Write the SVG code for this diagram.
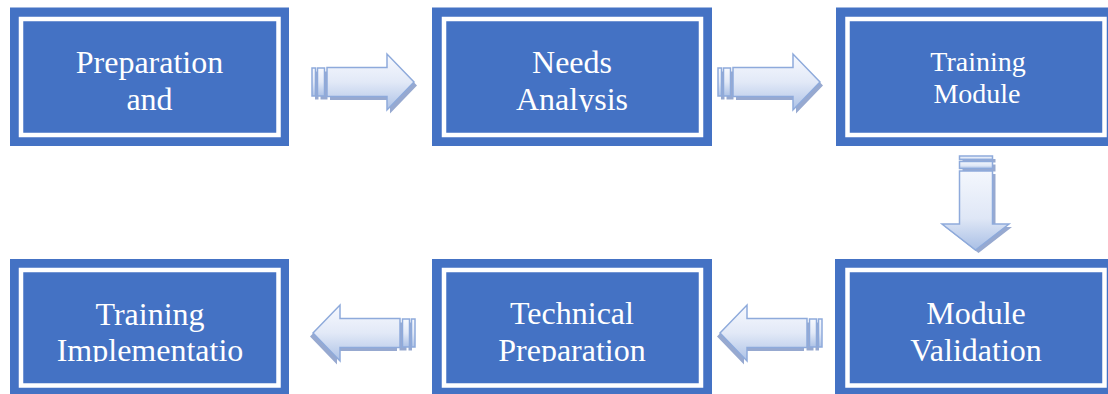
<svg xmlns="http://www.w3.org/2000/svg" width="1108" height="394" viewBox="0 0 1108 394">
  <style>
    .box { fill: #4472c4; }
    .frame { fill: none; stroke: #ffffff; stroke-width: 4.5; }
    .lbl { font-family: "Liberation Serif", "Times New Roman", serif; fill: #ffffff; text-anchor: middle; }
    .big { font-size: 32px; }
    .mid { font-size: 28px; }
    .arrow { fill: url(#arrowFill); stroke: #8eaadb; stroke-width: 1.5; stroke-linejoin: miter; }
    .shadow { fill: #97a9d0; }
  </style>
  <defs>
    <linearGradient id="arrowFill" x1="0" y1="0" x2="0" y2="1">
      <stop offset="0" stop-color="#f7f9fe"/>
      <stop offset="0.5" stop-color="#e2e9f7"/>
      <stop offset="1" stop-color="#adc2e6"/>
    </linearGradient>
    <linearGradient id="arrowFillDown" x1="0" y1="0" x2="0" y2="1">
      <stop offset="0" stop-color="#f4f7fd"/>
      <stop offset="0.6" stop-color="#dfe7f6"/>
      <stop offset="1" stop-color="#a9bfe5"/>
    </linearGradient>
    <clipPath id="clipTop"><rect x="0" y="0" width="1108" height="112"/></clipPath>
    <clipPath id="clipBottom"><rect x="0" y="250" width="1108" height="112"/></clipPath>
    <!-- right-pointing block arrow with striped tail, origin at left/centre -->
    <g id="rightArrow">
      <g class="shadow" transform="translate(3,3.5)">
        <rect x="0" y="-14" width="3.5" height="28"/>
        <rect x="5.5" y="-14" width="7" height="28"/>
        <path d="M15,-14.5 H75 V-28 L102,0 L75,28 V14.5 H15 Z"/>
      </g>
      <rect class="arrow" x="0" y="-14" width="3.5" height="28"/>
      <rect class="arrow" x="5.5" y="-14" width="7" height="28"/>
      <path class="arrow" d="M15,-14.5 H75 V-28 L102,0 L75,28 V14.5 H15 Z"/>
    </g>
  </defs>

  <!-- top row -->
  <g id="node-preparation">
    <rect class="box" x="10" y="7.5" width="279" height="138.5"/>
    <rect class="frame" x="21" y="19" width="257.5" height="116"/>
    <g clip-path="url(#clipTop)">
      <text class="lbl big" x="149.5" y="72.5">Preparation</text>
      <text class="lbl big" x="149.5" y="110">and</text>
    </g>
  </g>
  <g id="node-needs">
    <rect class="box" x="432" y="7.5" width="280" height="138.5"/>
    <rect class="frame" x="444" y="19" width="257" height="116"/>
    <g clip-path="url(#clipTop)">
      <text class="lbl big" x="572" y="72.5">Needs</text>
      <text class="lbl big" x="572" y="110">Analysis</text>
    </g>
  </g>
  <g id="node-training-module">
    <rect class="box" x="836" y="7.5" width="280" height="138.5"/>
    <rect class="frame" x="847.5" y="19" width="257" height="116"/>
    <g clip-path="url(#clipTop)">
      <text class="lbl mid" x="978" y="71">Training</text>
      <text class="lbl mid" x="977" y="103">Module</text>
    </g>
  </g>

  <!-- bottom row -->
  <g id="node-implementation">
    <rect class="box" x="10" y="259" width="279" height="140"/>
    <rect class="frame" x="21" y="270" width="257.5" height="115.5"/>
    <g clip-path="url(#clipBottom)">
      <text class="lbl big" x="150" y="324.5">Training</text>
      <text class="lbl big" x="150" y="361">Implementatio</text>
    </g>
  </g>
  <g id="node-technical">
    <rect class="box" x="432" y="259" width="280" height="140"/>
    <rect class="frame" x="444" y="270" width="257" height="115.5"/>
    <g clip-path="url(#clipBottom)">
      <text class="lbl big" x="572" y="324">Technical</text>
      <text class="lbl big" x="572" y="361">Preparation</text>
    </g>
  </g>
  <g id="node-validation">
    <rect class="box" x="835" y="259" width="280" height="140"/>
    <rect class="frame" x="847.5" y="270" width="257" height="115.5"/>
    <g clip-path="url(#clipBottom)">
      <text class="lbl big" x="976" y="323.5">Module</text>
      <text class="lbl big" x="976" y="361">Validation</text>
    </g>
  </g>

  <!-- connectors -->
  <g id="connectors">
    <use href="#rightArrow" transform="translate(312,82)"/>
    <use href="#rightArrow" transform="translate(718,82)"/>
    <!-- downward arrow between the right-hand boxes -->
    <g id="down-arrow">
      <g class="shadow" transform="translate(3,3)">
        <rect x="959.5" y="156" width="33" height="3.5"/>
        <rect x="959.5" y="161.5" width="33" height="7"/>
        <path d="M959.5,171 V224 H942 L975.5,250 L1009,224 H992.5 V171 Z"/>
      </g>
      <rect x="959.5" y="156" width="33" height="3.5" fill="url(#arrowFillDown)" stroke="#8eaadb" stroke-width="1.5"/>
      <rect x="959.5" y="161.5" width="33" height="7" fill="url(#arrowFillDown)" stroke="#8eaadb" stroke-width="1.5"/>
      <path d="M959.5,171 V224 H942 L975.5,250 L1009,224 H992.5 V171 Z" fill="url(#arrowFillDown)" stroke="#8eaadb" stroke-width="1.5"/>
    </g>
    <use href="#rightArrow" transform="translate(822,333) scale(-1,1)"/>
    <use href="#rightArrow" transform="translate(415,333) scale(-1,1)"/>
  </g>
</svg>
